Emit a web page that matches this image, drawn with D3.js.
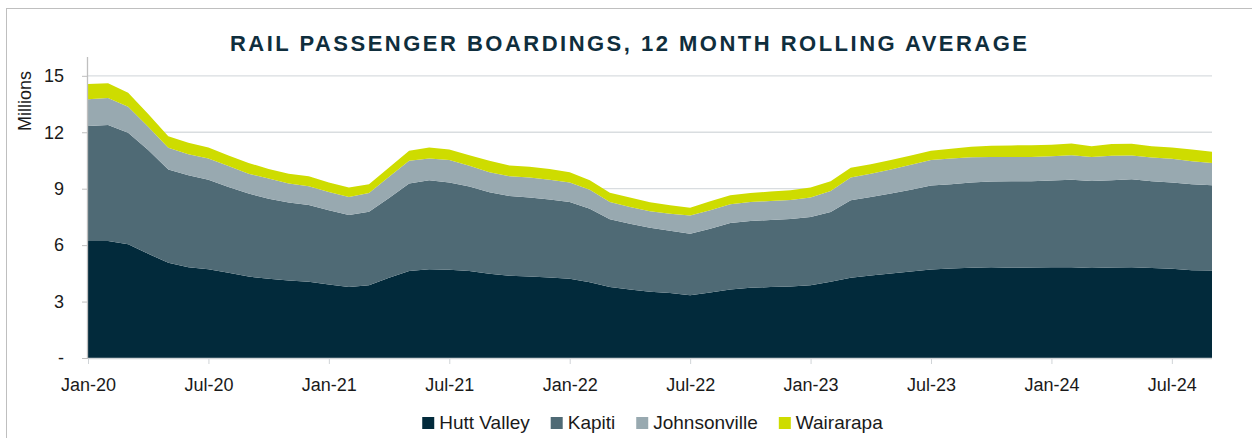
<!DOCTYPE html>
<html>
<head>
<meta charset="utf-8">
<script src="https://cdn.jsdelivr.net/npm/d3@7"></script>
<style>
  body { margin: 0; background: #fff; }
  svg { display: block; font-family: "Liberation Sans", Arial, sans-serif; }
</style>
</head>
<body>
<div id="chart"></div>
<script>
// monthly, Jan-20 .. Sep-24 (millions)
const startMonth = new Date(2020, 0, 1)
const endMonth = new Date(2024, 8, 1)

const huttValley = [6.22,6.22,6.04,5.54,5.06,4.83,4.72,4.53,4.33,4.21,4.12,4.05,3.91,3.77,3.87,4.26,4.62,4.72,4.69,4.62,
  4.48,4.37,4.33,4.28,4.21,4.03,3.77,3.64,3.52,3.45,3.34,3.48,3.64,3.73,3.77,3.80,3.87,4.05,4.26,4.39,
  4.49,4.60,4.71,4.76,4.80,4.83,4.80,4.81,4.83,4.83,4.78,4.81,4.83,4.78,4.74,4.67,4.65]
const kapiti = [6.11,6.16,5.93,5.51,4.96,4.89,4.76,4.56,4.41,4.26,4.14,4.08,3.94,3.83,3.91,4.25,4.65,4.73,4.64,4.49,
  4.33,4.24,4.20,4.14,4.08,3.91,3.60,3.50,3.41,3.32,3.27,3.39,3.54,3.55,3.57,3.59,3.63,3.71,4.12,4.17,
  4.25,4.35,4.46,4.48,4.53,4.55,4.60,4.59,4.60,4.64,4.63,4.64,4.67,4.62,4.59,4.57,4.53]
const johnsonville = [1.42,1.44,1.39,1.24,1.15,1.11,1.12,1.11,1.06,1.07,1.01,1.00,0.98,0.96,0.99,1.12,1.21,1.15,1.19,1.11,
  1.07,1.05,1.06,1.06,1.04,1.01,0.92,0.89,0.87,0.90,0.96,0.98,0.99,1.01,1.01,1.01,1.03,1.12,1.21,1.24,
  1.28,1.32,1.35,1.36,1.34,1.31,1.29,1.29,1.30,1.31,1.28,1.30,1.26,1.26,1.26,1.22,1.18]
const wairarapa = [0.81,0.78,0.74,0.68,0.62,0.61,0.59,0.56,0.57,0.51,0.53,0.53,0.50,0.50,0.47,0.49,0.53,0.59,0.56,0.56,
  0.60,0.57,0.57,0.56,0.55,0.50,0.50,0.50,0.48,0.45,0.42,0.48,0.48,0.48,0.50,0.52,0.53,0.52,0.52,0.50,
  0.50,0.49,0.49,0.52,0.56,0.59,0.61,0.62,0.60,0.62,0.57,0.62,0.63,0.60,0.60,0.62,0.61]

const seriesNames = ["Hutt Valley", "Kapiti", "Johnsonville", "Wairarapa"]
const xTickLabels = ["Jan-20","Jul-20","Jan-21","Jul-21","Jan-22","Jul-22","Jan-23","Jul-23","Jan-24","Jul-24"]
const yTicks = [0, 3, 6, 9, 12, 15]
const yTickLabels = ["-", "3", "6", "9", "12", "15"]

const colors = ["#022a3b", "#4f6a75", "#98a9b0", "#cedc00"]

const width = 1252
const height = 438
const plotLeft = 88, plotRight = 1212, plotTop = 57, plotBottom = 358

const fmt = d3.timeFormat("%b-%y")
const months = d3.timeMonth.range(startMonth, d3.timeMonth.offset(endMonth, 1)).map(fmt)

const rows = months.map((m, i) => ({
    month: m,
    "Hutt Valley": huttValley[i],
    "Kapiti": kapiti[i],
    "Johnsonville": johnsonville[i],
    "Wairarapa": wairarapa[i]
}))

const stacked = d3.stack().keys(seriesNames)(rows)

const xScale = d3.scalePoint()
    .domain(months)
    .range([plotLeft, plotRight])

const yScale = d3.scaleLinear()
    .domain([0, 16])
    .range([plotBottom, plotTop])

const svg = d3.select("#chart")
    .append("svg")
    .attr("width", width)
    .attr("height", height)

// frame (only top/left visible)
svg.append("rect")
    .attr("x", 6.5).attr("y", 8.5)
    .attr("width", 1300).attr("height", 500)
    .attr("fill", "none")
    .attr("stroke", "#bfbfbf")

svg.append("text")
    .attr("x", 230).attr("y", 51)
    .attr("textLength", 797)
    .attr("lengthAdjust", "spacing")
    .attr("font-size", 22)
    .attr("font-weight", "bold")
    .attr("fill", "#0f2e3d")
    .text("RAIL PASSENGER BOARDINGS, 12 MONTH ROLLING AVERAGE")

// gridlines
svg.append("g")
    .selectAll("line")
    .data(yTicks.filter(d => d > 0))
    .enter()
    .append("line")
    .attr("x1", plotLeft).attr("x2", plotRight)
    .attr("y1", d => yScale(d)).attr("y2", d => yScale(d))
    .attr("stroke", "#d9dde0")
    .attr("stroke-width", 1.3)

const area = d3.area()
    .x(d => xScale(d.data.month))
    .y0(d => yScale(d[0]))
    .y1(d => yScale(d[1]))

svg.append("g")
    .selectAll("path")
    .data(stacked)
    .enter()
    .append("path")
    .attr("d", area)
    .attr("fill", (d, i) => colors[i])

// axes
const yAxis = d3.axisLeft(yScale)
    .tickValues(yTicks)
    .tickFormat((d, i) => yTickLabels[i])
    .tickSize(6)
    .tickPadding(18)

const gy = svg.append("g")
    .attr("transform", `translate(${plotLeft},0)`)
    .call(yAxis)
gy.select(".domain").attr("d", `M-0.5,${plotTop}V${plotBottom}`).attr("stroke", "#bfbfbf").attr("stroke-width", 1.3)
gy.selectAll(".tick line").attr("stroke", "#bfbfbf")
gy.selectAll(".tick text").attr("font-size", 18).attr("fill", "#1a1a1a").attr("font-family", "Liberation Sans, Arial, sans-serif")

const xAxis = d3.axisBottom(xScale)
    .tickValues(xTickLabels)
    .tickSize(6)
    .tickPadding(14)

const gx = svg.append("g")
    .attr("transform", `translate(0,${plotBottom})`)
    .call(xAxis)
gx.select(".domain").attr("d", `M${plotLeft},0.5H${plotRight}`).attr("stroke", "#d0d4d7").attr("stroke-width", 1.3)
gx.selectAll(".tick line").attr("stroke", "#d0d4d7")
gx.selectAll(".tick text").attr("font-size", 18).attr("fill", "#1a1a1a").attr("font-family", "Liberation Sans, Arial, sans-serif")

svg.append("text")
    .attr("transform", "translate(31,101) rotate(-90)")
    .attr("text-anchor", "middle")
    .attr("font-size", 18)
    .attr("fill", "#1a1a1a")
    .text("Millions")

// legend
const legend = svg.append("g")
let lx = 0
seriesNames.forEach((name, i) => {
    const item = legend.append("g").attr("transform", `translate(${lx},0)`)
    item.append("rect")
        .attr("x", 0).attr("y", -12)
        .attr("width", 12).attr("height", 12)
        .attr("fill", colors[i])
    const t = item.append("text")
        .attr("x", 17).attr("y", 0)
        .attr("font-size", 19)
        .attr("fill", "#1a1a1a")
        .text(name)
    lx += 17 + t.node().getComputedTextLength() + 21
})
const legendWidth = lx - 21
legend.attr("transform", `translate(${652.5 - legendWidth / 2},429)`)
</script>
</body>
</html>
